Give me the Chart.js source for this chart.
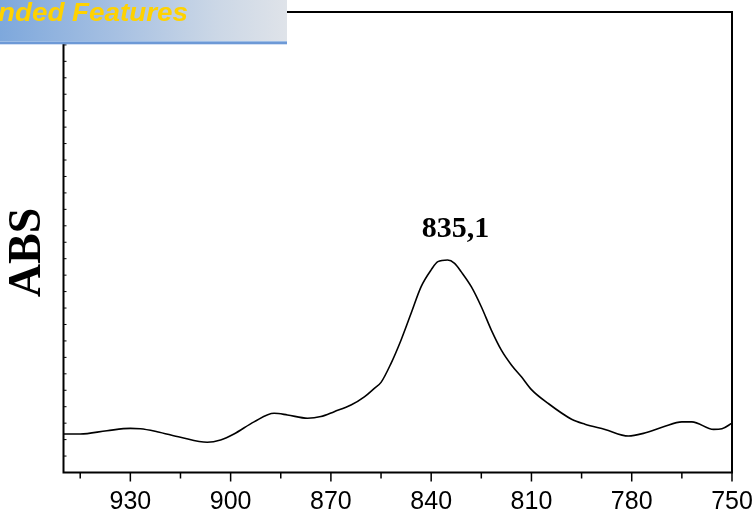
<!DOCTYPE html>
<html>
<head>
<meta charset="utf-8">
<script src="https://cdn.jsdelivr.net/npm/chart.js@4"></script>
<style>
  html, body { margin: 0; padding: 0; background: #fff; }
</style>
</head>
<body>
<canvas id="chart" width="756" height="512"></canvas>
<script>
// Spectrum: wavenumber (cm-1) against absorbance
const wavenumbers = [950, 945, 937, 930, 927, 922, 915, 907, 903, 899,
                     893, 887, 883, 877, 873, 869, 864, 860, 857, 855,
                     852, 849, 846, 843, 840, 838, 835.1, 833, 831, 828,
                     825, 822, 819, 816, 813, 810, 805, 798, 794, 788,
                     781, 776.5, 770.5, 765, 762, 755.5, 753, 750];
const absorbance  = [0.117, 0.117, 0.127, 0.134, 0.133, 0.124, 0.107, 0.092, 0.099, 0.117,
                     0.154, 0.180, 0.175, 0.165, 0.170, 0.185, 0.205, 0.230, 0.256, 0.274,
                     0.332, 0.403, 0.484, 0.565, 0.616, 0.641, 0.646, 0.636, 0.610, 0.565,
                     0.504, 0.433, 0.372, 0.327, 0.291, 0.252, 0.210, 0.162, 0.147, 0.131,
                     0.111, 0.119, 0.139, 0.154, 0.154, 0.131, 0.133, 0.150];

// Axis ticks
const xMajorTicks = [930, 900, 870, 840, 810, 780, 750];
const xMinorTicks = [945, 915, 885, 855, 825, 795, 765];
const yMinorTicks = [];
for (let i = 0; i <= 28; i++) yMinorTicks.push(+(i * 0.05).toFixed(2));

const yTitle = 'ABS';
const bannerText = 'Extended Features';

const peakIndex = absorbance.indexOf(Math.max(...absorbance));
const peakLabel = wavenumbers[peakIndex].toFixed(1).replace('.', ',');

const framePlugin = {
  id: 'frame',
  afterDraw(chart) {
    const { ctx, chartArea: a, scales: { x, y } } = chart;
    ctx.save();
    ctx.strokeStyle = '#000';
    ctx.lineWidth = 2;
    ctx.strokeRect(a.left, a.top, a.right - a.left, a.bottom - a.top);

    // bottom axis: major and minor tick marks, then labels
    ctx.lineWidth = 1.5;
    ctx.beginPath();
    xMajorTicks.forEach(v => {
      const px = x.getPixelForValue(v);
      ctx.moveTo(px, a.bottom); ctx.lineTo(px, a.bottom + 9);
    });
    xMinorTicks.forEach(v => {
      const px = x.getPixelForValue(v);
      ctx.moveTo(px, a.bottom); ctx.lineTo(px, a.bottom + 6);
    });
    ctx.stroke();

    ctx.fillStyle = '#000';
    ctx.font = '25px "Liberation Sans", Arial, sans-serif';
    ctx.textAlign = 'center';
    ctx.textBaseline = 'alphabetic';
    xMajorTicks.forEach(v => {
      ctx.fillText(String(v), x.getPixelForValue(v), a.bottom + 36.5);
    });

    // inner ticks on the left axis
    ctx.lineWidth = 1;
    ctx.beginPath();
    yMinorTicks.forEach(v => {
      const py = y.getPixelForValue(v);
      ctx.moveTo(a.left, py); ctx.lineTo(a.left + 3, py);
    });
    ctx.stroke();

    // left axis title
    ctx.save();
    ctx.translate(28.5, 252.5);
    ctx.rotate(-Math.PI / 2);
    ctx.font = 'bold 46px "Liberation Serif", "Times New Roman", serif';
    ctx.textBaseline = 'middle';
    ctx.fillText(yTitle, 0, 0);
    ctx.restore();

    // peak annotation
    const px = x.getPixelForValue(wavenumbers[peakIndex]);
    const py = y.getPixelForValue(absorbance[peakIndex]);
    ctx.font = 'bold 30px "Liberation Serif", "Times New Roman", serif';
    ctx.textAlign = 'center';
    ctx.textBaseline = 'alphabetic';
    ctx.fillText(peakLabel, px + 8, py - 23);

    // banner strip in the top-left corner, its caption running off the left edge
    const g = ctx.createLinearGradient(0, 0, 287, 0);
    g.addColorStop(0, '#7ea8dc');
    g.addColorStop(0.4, '#a6c0e2');
    g.addColorStop(0.75, '#cbd7e6');
    g.addColorStop(1, '#dfe3e9');
    ctx.fillStyle = g;
    ctx.fillRect(0, 0, 287, 42);
    ctx.fillStyle = '#9dbde6';
    ctx.fillRect(0, 41, 287, 1.2);
    ctx.fillStyle = '#6d99d6';
    ctx.fillRect(0, 42, 287, 2.3);

    ctx.save();
    ctx.beginPath();
    ctx.rect(0, 0, 287, 41);
    ctx.clip();
    ctx.font = 'italic bold 26px "Liberation Sans", Arial, sans-serif';
    const tail = bannerText.slice(bannerText.indexOf('nded'));
    const sx = 190 / ctx.measureText(tail).width;
    ctx.translate(188, 20.8);
    ctx.scale(sx, 1);
    ctx.fillStyle = '#ffd200';
    ctx.textAlign = 'right';
    ctx.textBaseline = 'alphabetic';
    ctx.fillText(bannerText, 0, 0);
    ctx.restore();

    ctx.restore();
  }
};

new Chart(document.getElementById('chart'), {
  type: 'line',
  data: {
    datasets: [{
      data: wavenumbers.map((w, i) => ({ x: w, y: absorbance[i] })),
      borderColor: '#000',
      borderWidth: 1.6,
      pointRadius: 0,
      fill: false,
      cubicInterpolationMode: 'monotone'
    }]
  },
  options: {
    responsive: false,
    animation: false,
    devicePixelRatio: 1,
    layout: { padding: { left: 63.5, top: 12, right: 24, bottom: 39.5 } },
    plugins: { legend: { display: false }, tooltip: { enabled: false } },
    scales: {
      x: {
        type: 'linear',
        reverse: true,
        min: 750,
        max: 950,
        afterBuildTicks: s => { s.ticks = xMajorTicks.map(v => ({ value: v })); },
        grid: { display: false, drawTicks: false },
        border: { display: false },
        ticks: { display: false }
      },
      y: {
        type: 'linear',
        min: 0,
        max: 1.4,
        afterBuildTicks: s => { s.ticks = yMinorTicks.map(v => ({ value: v })); },
        grid: { display: false, drawTicks: false },
        border: { display: false },
        ticks: { display: false }
      }
    }
  },
  plugins: [framePlugin]
});
</script>
</body>
</html>
